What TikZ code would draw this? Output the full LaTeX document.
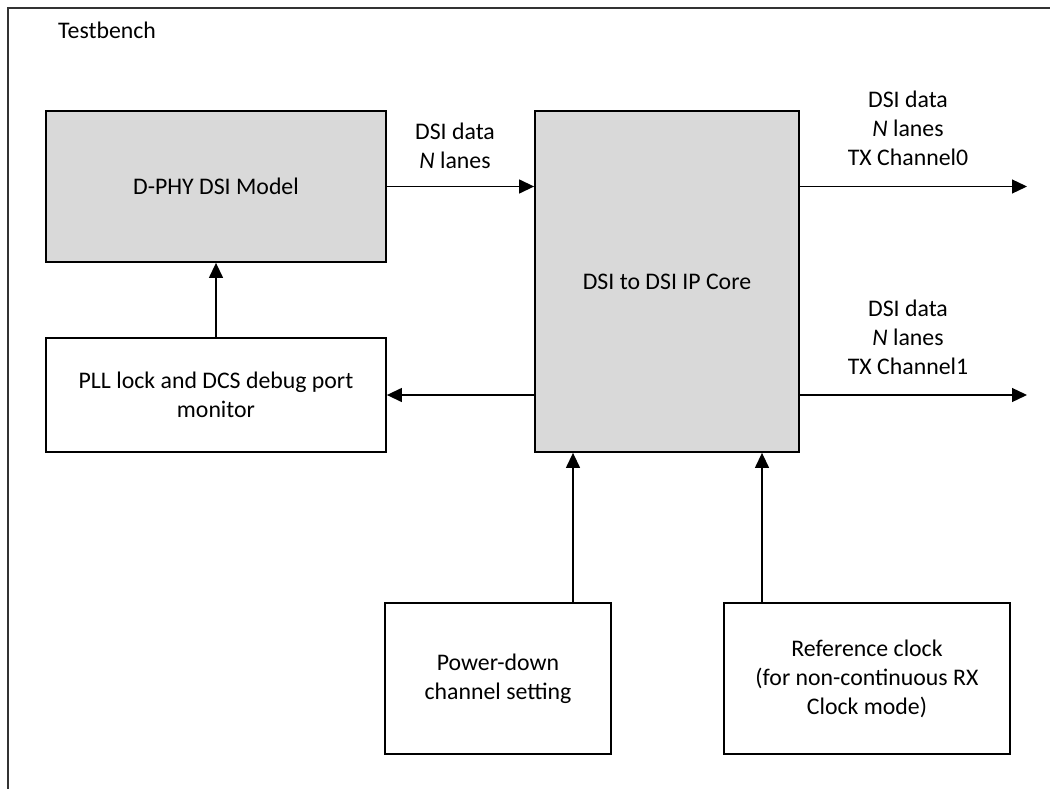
\documentclass[tikz,border=0pt]{standalone}
\usepackage{fontspec}
\setmainfont{Carlito}
\usetikzlibrary{arrows.meta,calc}
\definecolor{boxgray}{HTML}{D9D9D9}
\begin{document}
\begin{tikzpicture}[x=1pt,y=-1pt,
  every node/.style={font=\fontsize{23.8}{29}\selectfont, inner sep=0pt},
  blk/.style={draw=black, line width=1.8pt, align=center},
  grayblk/.style={blk, fill=boxgray},
  arr/.style={line width=1.3pt, -{Triangle[length=15pt,width=14pt]}},
  lbl/.style={align=center}]
\clip (0,0) rectangle (1050,789);
\fill[white] (0,0) rectangle (1050,789);
\draw[line width=1.8pt, draw=black!80] (8,8) rectangle (1070,820);
\node[anchor=base west] (tb) at (58,39) {Testbench};

\node[grayblk, minimum width=340pt, minimum height=151pt] (dphy) at (216,186.5) {D-PHY DSI Model};
\node[blk, minimum width=340pt, minimum height=114pt] (pll) at (216,395) {PLL lock and DCS debug port\\monitor};
\node[grayblk, minimum width=264pt, minimum height=341pt] (core) at (667,281.5) {DSI to DSI IP Core};
\node[blk, minimum width=226pt, minimum height=151pt] (pd) at (498,678.5) {Power-down\\channel setting};
\node[blk, minimum width=286pt, minimum height=151pt] (ref) at (867,678.5) {Reference clock\\(for non-continuous RX\\Clock mode)};

\coordinate (o0) at (1027,186.5);
\coordinate (o1) at (1027,395);
\coordinate (pdx) at (573,0);
\coordinate (refx) at (762,0);

\draw[arr] (dphy.east) -- (dphy.east -| core.west);
\draw[arr] (core.west |- pll.east) -- (pll.east);
\draw[arr] (pll.north) -- (dphy.south);
\draw[arr] (core.east |- o0) -- (o0);
\draw[arr] (core.east |- o1) -- (o1);
\draw[arr] (pd.north -| pdx) -- (pdx |- core.south);
\draw[arr] (ref.north -| refx) -- (refx |- core.south);

\node[lbl] (lin) at (455,146) {DSI data\\\textit{N} lanes};
\node[lbl] (l0) at (908,128) {DSI data\\\textit{N} lanes\\TX Channel0};
\node[lbl] (l1) at (908,337) {DSI data\\\textit{N} lanes\\TX Channel1};
\end{tikzpicture}
\end{document}
